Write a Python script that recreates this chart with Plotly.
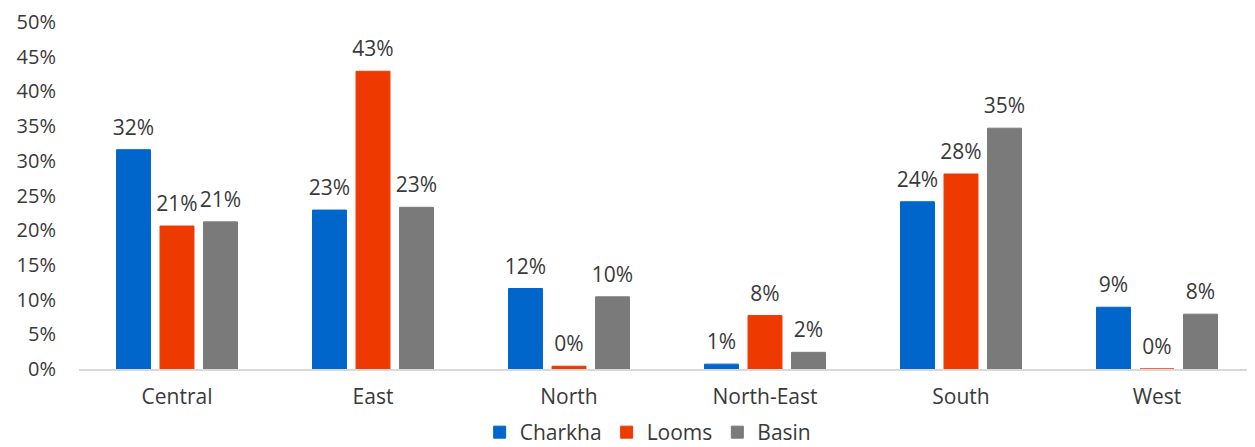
import plotly.graph_objects as go

regions = ["Central", "East", "North", "North-East", "South", "West"]
charkha = [31.6, 22.9, 11.6, 0.7, 24.1, 8.9]
looms = [20.6, 42.9, 0.4, 7.7, 28.1, 0.0]
basin = [21.2, 23.3, 10.4, 2.4, 34.7, 7.9]
tick_vals = [0, 5, 10, 15, 20, 25, 30, 35, 40, 45, 50]
tick_text = [f"{v}%" for v in tick_vals]

series = [("Charkha", charkha, "#0066CC"), ("Looms", looms, "#EE3A00"), ("Basin", basin, "#7A7A7A")]

fig = go.Figure()
for name, vals, col in series:
    fig.add_trace(go.Bar(
        x=regions, y=vals, name=name, offsetgroup=name,
        marker=dict(color=col, line=dict(color=col, width=1)),
    ))
for name, vals, col in series:
    fig.add_trace(go.Scatter(
        x=regions, y=vals, name=name, offsetgroup=name, mode="markers+text",
        marker=dict(size=14, color="rgba(0,0,0,0)"),
        text=[f"{round(v)}%" for v in vals],
        textposition="top center", cliponaxis=False, showlegend=False, hoverinfo="skip",
        textfont=dict(family="Open Sans", size=21, color="#3A3A3A"),
    ))

# page body has an 8px margin, so the figure is sized to fill the rest of the window
fig.update_layout(
    width=1247, height=439,
    margin=dict(l=71, r=0, t=14, b=78, autoexpand=False),
    paper_bgcolor="white", plot_bgcolor="white",
    barmode="group", bargap=0.334, bargroupgap=0.22,
    scattermode="group", scattergap=0.334,
    font=dict(family="Open Sans", size=20, color="#3A3A3A"),
    showlegend=True,
    legend=dict(orientation="h", x=0.484, xanchor="center", y=-0.183, yanchor="middle",
                font=dict(family="Open Sans", size=21, color="#3A3A3A"),
                itemwidth=30, traceorder="normal"),
)
fig.update_xaxes(showline=True, linecolor="#D9D9D9", linewidth=1.5, ticks="",
                 ticklabelstandoff=8,
                 tickfont=dict(family="Open Sans", size=21, color="#3A3A3A"))
fig.update_yaxes(range=[0, 50], tickvals=tick_vals, ticktext=tick_text, showgrid=False,
                 zeroline=False, showline=False, ticks="", ticklabelstandoff=22,
                 tickfont=dict(family="Open Sans", size=20, color="#3A3A3A"))

fig.write_html("out.html", config={"displayModeBar": False})
